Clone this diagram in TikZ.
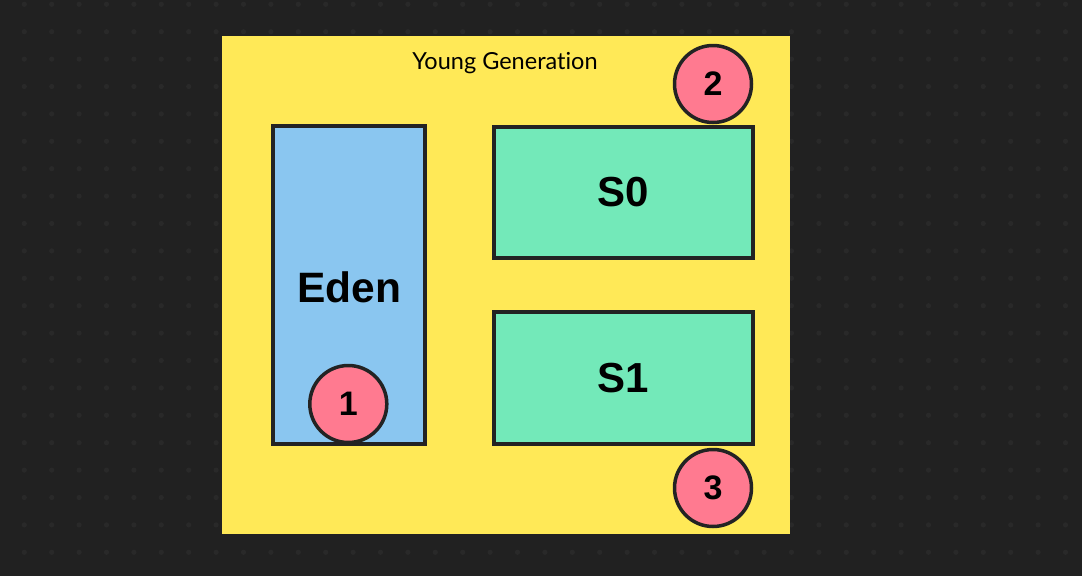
\documentclass[tikz,border=0pt]{standalone}
\usepackage{fontspec}
\setmainfont{Liberation Sans}
\newfontfamily\labelfont[Ligatures=NoCommon]{Lato}
\definecolor{bgc}{HTML}{212121}
\definecolor{dotc}{HTML}{292929}
\definecolor{yel}{HTML}{FFE957}
\definecolor{edenc}{HTML}{8AC6F0}
\definecolor{survc}{HTML}{73E9B9}
\definecolor{pinkc}{HTML}{FF7A90}
\definecolor{linec}{HTML}{232323}
\tikzset{
  region/.style={draw=linec, line width=3.3pt, inner sep=0pt, font=\bfseries\fontsize{42}{48}\selectfont},
  badge/.style={circle, draw=linec, line width=3.5pt, fill=pinkc, minimum size=77pt, inner sep=0pt, font=\bfseries\fontsize{34}{38}\selectfont}
}
\begin{document}
\begin{tikzpicture}[x=1pt,y=-1pt]
\useasboundingbox (0,0) rectangle (1082,576);
\fill[bgc] (0,0) rectangle (1082,576);
\foreach \i in {0,...,39} {
  \foreach \j in {0,...,21} {
    \fill[dotc] (24.3+27.4*\i, 4.3+27.4*\j) circle (2.6pt);
  }
}
\node[fill=yel, minimum width=568pt, minimum height=498pt, inner sep=0pt] (young) at (506,285) {};
\node[font=\labelfont\fontsize{23.5}{26}\selectfont] (title) at (505,63) {Young Generation};
\node[region, fill=edenc, minimum width=152pt, minimum height=318pt] (eden) at (349,285) {};
\node (edentext) at (349.5,287) {\bfseries\fontsize{42.5}{48}\selectfont Eden};
\node[region, fill=survc, minimum width=259pt, minimum height=131pt] (s0) at (623.5,192.5) {S0};
\node[region, fill=survc, minimum width=259pt, minimum height=132pt] (s1) at (623.5,378) {S1};
\node[badge] (b1) at (348.3,404) {1};
\node[badge] (b2) at (713,84) {2};
\node[badge] (b3) at (713,488) {3};
\end{tikzpicture}
\end{document}
